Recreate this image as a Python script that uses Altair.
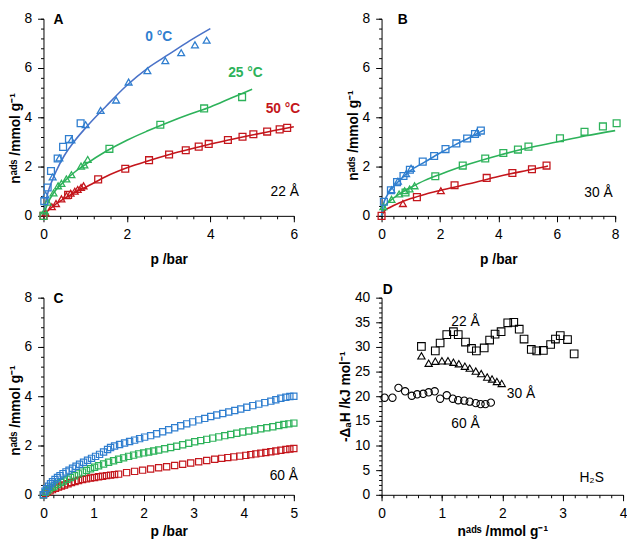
import altair as alt
import pandas as pd

FONT = "Liberation Sans"
BLUE = "#2F7ECF"
BLUE_LINE = "#4A72C8"
GREEN = "#2DB25A"
RED = "#C4161C"

# ---------------- Panel A (22 Å) ----------------
A_BLUE_SQ_P = [0.02, 0.10, 0.18, 0.34, 0.47, 0.61, 0.89]
A_BLUE_SQ_N = [0.60, 1.15, 1.82, 2.33, 2.80, 3.12, 3.76]
A_BLUE_TR_P = [0.05, 0.22, 0.38, 0.67, 1.01, 1.37, 1.74, 2.04, 2.49, 2.92, 3.30, 3.63, 3.91]
A_BLUE_TR_N = [0.85, 1.58, 2.35, 3.08, 3.70, 4.28, 4.70, 5.43, 5.89, 6.30, 6.62, 6.94, 7.13]
A_BLUE_FIT_P = [0, 0.05, 0.1, 0.2, 0.3, 0.5, 0.75, 1.0, 1.5, 2.0, 2.5, 3.0, 3.5, 4.0]
A_BLUE_FIT_N = [0, 0.55, 0.90, 1.40, 1.80, 2.45, 3.05, 3.55, 4.45, 5.30, 6.00, 6.55, 7.10, 7.60]

A_GREEN_TR_P = [0.03, 0.10, 0.24, 0.35, 0.43, 0.55, 0.67, 0.90, 0.98, 1.06]
A_GREEN_TR_N = [0.20, 0.56, 0.93, 1.22, 1.32, 1.50, 1.67, 2.02, 2.07, 2.29]
A_GREEN_SQ_P = [0.0, 1.58, 2.80, 3.85, 4.76]
A_GREEN_SQ_N = [0.0, 2.72, 3.70, 4.36, 4.82]
A_GREEN_FIT_P = [0, 0.1, 0.25, 0.5, 0.75, 1.0, 1.5, 2.0, 2.5, 3.0, 3.5, 4.0, 4.5, 5.0]
A_GREEN_FIT_N = [0, 0.50, 0.95, 1.40, 1.78, 2.08, 2.62, 3.07, 3.45, 3.80, 4.12, 4.42, 4.78, 5.14]

A_RED_TR_P = [0.05, 0.20, 0.30, 0.43, 0.55, 0.65, 0.75, 0.82, 0.90, 0.96]
A_RED_TR_N = [0.12, 0.37, 0.50, 0.69, 0.82, 0.92, 1.00, 1.07, 1.15, 1.22]
A_RED_SQ_P = [0.0, 0.59, 1.31, 1.96, 2.53, 3.01, 3.41, 3.72, 3.96, 4.42, 4.77, 5.03, 5.36, 5.66, 5.84]
A_RED_SQ_N = [0.0, 0.85, 1.48, 1.91, 2.26, 2.49, 2.66, 2.81, 2.92, 3.08, 3.21, 3.31, 3.42, 3.51, 3.57]
A_RED_FIT_P = [0, 0.1, 0.25, 0.5, 0.75, 1.0, 1.5, 2.0, 2.5, 3.0, 3.5, 4.0, 4.5, 5.0, 5.5, 6.0]
A_RED_FIT_N = [0, 0.20, 0.42, 0.70, 0.95, 1.15, 1.60, 1.95, 2.23, 2.48, 2.70, 2.92, 3.10, 3.28, 3.45, 3.62]

# ---------------- Panel B (30 Å) ----------------
B_BLUE_SQ_P = [0.08, 0.32, 0.53, 0.75, 0.97, 1.41, 1.80, 2.19, 2.56, 2.93, 3.20, 3.40]
B_BLUE_SQ_N = [0.57, 1.04, 1.37, 1.62, 1.87, 2.20, 2.43, 2.71, 2.94, 3.14, 3.32, 3.46]
B_BLUE_TR_P = [0.34, 0.56, 0.84, 1.01, 3.26]
B_BLUE_TR_N = [1.06, 1.41, 1.71, 1.93, 3.38]
B_BLUE_FIT_P = [0, 0.05, 0.2, 0.5, 1.0, 1.5, 2.0, 2.5, 3.0, 3.5]
B_BLUE_FIT_N = [0, 0.40, 0.85, 1.30, 1.85, 2.20, 2.55, 2.87, 3.17, 3.48]

B_GREEN_SQ_P = [0.82, 1.84, 2.78, 3.55, 4.17, 4.67, 5.03, 6.11, 6.95, 7.58, 8.05]
B_GREEN_SQ_N = [0.95, 1.61, 2.04, 2.33, 2.55, 2.69, 2.81, 3.15, 3.41, 3.63, 3.76]
B_GREEN_TR_P = [0.06, 0.34, 0.60, 0.79, 0.96, 1.13]
B_GREEN_TR_N = [0.37, 0.67, 0.89, 1.02, 1.09, 1.22]
B_GREEN_FIT_P = [0, 0.1, 0.3, 0.6, 1.0, 1.5, 2.0, 3.0, 4.0, 5.0, 6.0, 7.0, 8.0]
B_GREEN_FIT_N = [0, 0.35, 0.62, 0.88, 1.15, 1.45, 1.68, 2.10, 2.45, 2.75, 3.00, 3.25, 3.46]

B_RED_SQ_P = [0.0, 1.21, 2.50, 3.60, 4.48, 5.15, 5.65]
B_RED_SQ_N = [0.0, 0.76, 1.24, 1.54, 1.74, 1.89, 2.04]
B_RED_TR_P = [0.73, 2.03]
B_RED_TR_N = [0.50, 1.02]
B_RED_FIT_P = [0, 0.1, 0.3, 0.6, 1.0, 1.5, 2.0, 3.0, 4.0, 5.0, 5.7]
B_RED_FIT_N = [0, 0.20, 0.35, 0.52, 0.70, 0.88, 1.03, 1.30, 1.60, 1.85, 2.02]

# ---------------- Panel C (60 Å) ----------------
C_BLUE_P = [0.00, 0.03, 0.06, 0.10, 0.14, 0.18, 0.23, 0.28, 0.33, 0.39, 0.45, 0.51, 0.58, 0.65,
            0.72, 0.80, 0.88, 0.96, 1.04, 1.12, 1.20, 1.28, 1.34, 1.42, 1.52, 1.62, 1.72, 1.82,
            1.92, 2.02, 2.14, 2.26, 2.38, 2.50, 2.62, 2.74, 2.86, 2.98, 3.10, 3.22, 3.34, 3.46,
            3.58, 3.70, 3.82, 3.94, 4.06, 4.18, 4.30, 4.42, 4.54, 4.64, 4.74, 4.84, 4.92, 5.00]
C_BLUE_N = [0.00, 0.15, 0.25, 0.35, 0.45, 0.53, 0.62, 0.70, 0.78, 0.86, 0.93, 1.00, 1.08, 1.16,
            1.24, 1.32, 1.40, 1.48, 1.56, 1.64, 1.74, 1.84, 1.92, 1.98, 2.04, 2.10, 2.16, 2.22,
            2.28, 2.34, 2.40, 2.48, 2.56, 2.64, 2.72, 2.80, 2.88, 2.96, 3.04, 3.10, 3.18, 3.24,
            3.30, 3.36, 3.42, 3.48, 3.55, 3.62, 3.68, 3.74, 3.80, 3.86, 3.92, 3.96, 3.99, 4.00]
C_GREEN_P = [0.00, 0.04, 0.08, 0.12, 0.17, 0.22, 0.28, 0.34, 0.40, 0.47, 0.54, 0.62, 0.70, 0.78,
             0.86, 0.94, 1.02, 1.10, 1.20, 1.30, 1.40, 1.50, 1.60, 1.70, 1.80, 1.90, 2.00, 2.10,
             2.20, 2.30, 2.42, 2.54, 2.66, 2.78, 2.90, 3.02, 3.14, 3.26, 3.38, 3.50, 3.62, 3.74,
             3.86, 3.98, 4.10, 4.22, 4.34, 4.46, 4.58, 4.70, 4.80, 4.90, 5.00]
C_GREEN_N = [0.00, 0.10, 0.17, 0.24, 0.30, 0.36, 0.43, 0.50, 0.56, 0.63, 0.70, 0.77, 0.85, 0.92,
             0.99, 1.06, 1.12, 1.18, 1.25, 1.32, 1.38, 1.44, 1.50, 1.56, 1.61, 1.66, 1.70, 1.74,
             1.78, 1.82, 1.87, 1.92, 1.97, 2.03, 2.09, 2.15, 2.20, 2.25, 2.30, 2.35, 2.40, 2.45,
             2.50, 2.55, 2.59, 2.63, 2.68, 2.72, 2.76, 2.81, 2.85, 2.88, 2.91]
C_RED_P = [0.00, 0.04, 0.08, 0.13, 0.18, 0.24, 0.30, 0.36, 0.42, 0.49, 0.56, 0.63, 0.70, 0.78,
           0.86, 0.94, 1.02, 1.10, 1.18, 1.26, 1.34, 1.42, 1.50, 1.66, 1.82, 1.98, 2.14, 2.30,
           2.46, 2.62, 2.78, 2.94, 3.10, 3.26, 3.42, 3.56, 3.68, 3.80, 3.92, 4.04, 4.14, 4.24,
           4.34, 4.44, 4.54, 4.64, 4.74, 4.84, 4.92, 5.00]
C_RED_N = [0.00, 0.06, 0.11, 0.16, 0.21, 0.26, 0.31, 0.36, 0.40, 0.45, 0.50, 0.54, 0.58, 0.62,
           0.65, 0.68, 0.70, 0.73, 0.75, 0.78, 0.80, 0.82, 0.84, 0.90, 0.95, 1.00, 1.05, 1.10,
           1.14, 1.19, 1.24, 1.29, 1.34, 1.39, 1.44, 1.48, 1.51, 1.54, 1.57, 1.60, 1.63, 1.66,
           1.69, 1.72, 1.75, 1.78, 1.81, 1.84, 1.86, 1.88]

# ---------------- Panel D (heat of adsorption) ----------------
D_22_N = [0.66, 0.89, 0.97, 1.08, 1.19, 1.27, 1.39, 1.49, 1.57, 1.70, 1.79, 1.88, 1.98, 2.09,
          2.19, 2.28, 2.36, 2.48, 2.57, 2.68, 2.80, 2.88, 2.96, 3.08, 3.19]
D_22_H = [30.1, 29.2, 30.8, 32.5, 33.1, 32.5, 31.0, 29.7, 29.2, 29.8, 31.4, 32.6, 33.1, 34.9,
          35.0, 33.6, 31.6, 29.5, 29.2, 29.3, 30.5, 31.6, 32.3, 31.5, 28.6]
D_30_N = [0.66, 0.78, 0.89, 1.00, 1.10, 1.19, 1.28, 1.38, 1.46, 1.56, 1.65, 1.75, 1.83, 1.91, 1.99]
D_30_H = [28.2, 26.7, 27.1, 27.2, 27.2, 26.9, 26.6, 26.1, 25.7, 25.1, 24.6, 23.9, 23.5, 23.0, 22.6]
D_60_N = [0.05, 0.18, 0.28, 0.39, 0.50, 0.59, 0.69, 0.78, 0.88, 0.97, 1.08, 1.18, 1.27, 1.37,
          1.46, 1.56, 1.64, 1.72, 1.81]
D_60_H = [19.7, 19.7, 21.7, 21.0, 20.1, 20.4, 20.5, 20.8, 21.0, 19.5, 20.2, 19.5, 19.2, 19.1,
          18.9, 18.6, 18.4, 18.4, 18.7]

Y_TITLE_N = "nᵃᵈˢ /mmol g⁻¹"
X_TITLE_P = "p /bar"
Y_TITLE_H = "-ΔₐH /kJ mol⁻¹"


def steps(lo, hi, step):
    k = int(round((hi - lo) / step))
    return [round(lo + i * step, 4) for i in range(k + 1)]


def pts(xs, ys, p, n, color, shape, size=48, sw=1.3):
    df = pd.DataFrame({"p": p, "n": n})
    return alt.Chart(df).mark_point(shape=shape, filled=False, color=color, size=size,
                                    strokeWidth=sw, opacity=1).encode(
        x=alt.X("p:Q", scale=xs, axis=None),
        y=alt.Y("n:Q", scale=ys, axis=None))


def line(xs, ys, p, n, color):
    df = pd.DataFrame({"p": p, "n": n})
    return alt.Chart(df).mark_line(color=color, strokeWidth=1.6, interpolate="monotone").encode(
        x=alt.X("p:Q", scale=xs, axis=None),
        y=alt.Y("n:Q", scale=ys, axis=None))


def txt(xs, ys, p, n, s, color="black", size=14, weight="normal", align="center"):
    df = pd.DataFrame({"p": [p], "n": [n], "t": [s]})
    return alt.Chart(df).mark_text(font=FONT, fontSize=size, fontWeight=weight, color=color,
                                   align=align, baseline="middle").encode(
        x=alt.X("p:Q", scale=xs, axis=None),
        y=alt.Y("n:Q", scale=ys, axis=None),
        text="t:N")


def panel(xs, ys, w, h, xmaj, xminor, ymaj, yminor, xtitle, ytitle, xtpad, ytitle_y, layers):
    base = pd.DataFrame({"p": [xs.domain[0]], "n": [ys.domain[0]]})
    yax = dict(values=ymaj, title=ytitle, orient="left", tickSize=6, labelPadding=6,
               titlePadding=2, domain=True)
    if ytitle_y is not None:
        yax["titleY"] = ytitle_y
    major = alt.Chart(base).mark_point(opacity=0).encode(
        x=alt.X("p:Q", scale=xs, axis=alt.Axis(values=xmaj, title=xtitle, orient="bottom",
                                               tickSize=6, labelPadding=6, titlePadding=xtpad)),
        y=alt.Y("n:Q", scale=ys, axis=alt.Axis(**yax)))
    minor = alt.Chart(base).mark_point(opacity=0).encode(
        x=alt.X("p:Q", scale=xs, axis=alt.Axis(values=xminor, labels=False, tickSize=3,
                                               domain=False, title=None, orient="bottom")),
        y=alt.Y("n:Q", scale=ys, axis=alt.Axis(values=yminor, labels=False, tickSize=3,
                                               domain=False, title=None, orient="left")))
    return alt.layer(major, minor, *layers).resolve_axis(
        x="independent", y="independent").properties(width=w, height=h)


H = 200

# Panel A
xa = alt.Scale(domain=[0, 6], nice=False, zero=False)
ya = alt.Scale(domain=[0, 8], nice=False, zero=False)
A = panel(xa, ya, 254, H, steps(0, 6, 2), steps(0, 6, 0.4), steps(0, 8, 2), steps(0, 8, 0.4),
          X_TITLE_P, Y_TITLE_N, 11, 121, [
              line(xa, ya, A_RED_FIT_P, A_RED_FIT_N, RED),
              line(xa, ya, A_GREEN_FIT_P, A_GREEN_FIT_N, GREEN),
              line(xa, ya, A_BLUE_FIT_P, A_BLUE_FIT_N, BLUE_LINE),
              pts(xa, ya, A_RED_TR_P, A_RED_TR_N, RED, "triangle-up"),
              pts(xa, ya, A_RED_SQ_P, A_RED_SQ_N, RED, "square"),
              pts(xa, ya, A_GREEN_TR_P, A_GREEN_TR_N, GREEN, "triangle-up"),
              pts(xa, ya, A_GREEN_SQ_P, A_GREEN_SQ_N, GREEN, "square"),
              pts(xa, ya, A_BLUE_TR_P, A_BLUE_TR_N, BLUE, "triangle-up"),
              pts(xa, ya, A_BLUE_SQ_P, A_BLUE_SQ_N, BLUE, "square"),
              txt(xa, ya, 0.24, 7.95, "A", weight="bold", align="left"),
              txt(xa, ya, 2.76, 7.25, "0 °C", color=BLUE, weight="bold"),
              txt(xa, ya, 4.84, 5.78, "25 °C", color=GREEN, weight="bold"),
              txt(xa, ya, 5.74, 4.35, "50 °C", color=RED, weight="bold"),
              txt(xa, ya, 5.78, 0.96, "22 Å"),
          ])

# Panel B
xb = alt.Scale(domain=[0, 8], nice=False, zero=False)
yb = alt.Scale(domain=[0, 8], nice=False, zero=False)
B = panel(xb, yb, 237, H, steps(0, 8, 2), steps(0, 8, 0.4), steps(0, 8, 2), steps(0, 8, 0.4),
          X_TITLE_P, Y_TITLE_N, 11, 118, [
              line(xb, yb, B_RED_FIT_P, B_RED_FIT_N, RED),
              line(xb, yb, B_GREEN_FIT_P, B_GREEN_FIT_N, GREEN),
              line(xb, yb, B_BLUE_FIT_P, B_BLUE_FIT_N, BLUE),
              pts(xb, yb, B_RED_TR_P, B_RED_TR_N, RED, "triangle-up"),
              pts(xb, yb, B_RED_SQ_P, B_RED_SQ_N, RED, "square"),
              pts(xb, yb, B_GREEN_TR_P, B_GREEN_TR_N, GREEN, "triangle-up"),
              pts(xb, yb, B_GREEN_SQ_P, B_GREEN_SQ_N, GREEN, "square"),
              pts(xb, yb, B_BLUE_TR_P, B_BLUE_TR_N, BLUE, "triangle-up"),
              pts(xb, yb, B_BLUE_SQ_P, B_BLUE_SQ_N, BLUE, "square"),
              txt(xb, yb, 0.55, 7.95, "B", weight="bold", align="left"),
              txt(xb, yb, 7.43, 0.92, "30 Å"),
          ])

# Panel C
xc = alt.Scale(domain=[0, 5], nice=False, zero=False)
yc = alt.Scale(domain=[0, 8], nice=False, zero=False)
C = panel(xc, yc, 254, H, steps(0, 5, 1), steps(0, 5, 0.2), steps(0, 8, 2), steps(0, 8, 0.4),
          X_TITLE_P, Y_TITLE_N, 4, 114, [
              pts(xc, yc, C_RED_P, C_RED_N, RED, "square", size=40, sw=1.2),
              pts(xc, yc, C_GREEN_P, C_GREEN_N, GREEN, "square", size=40, sw=1.2),
              pts(xc, yc, C_BLUE_P, C_BLUE_N, BLUE, "square", size=40, sw=1.2),
              txt(xc, yc, 0.2, 7.95, "C", weight="bold", align="left"),
              txt(xc, yc, 4.80, 0.76, "60 Å"),
          ])

# Panel D
xd = alt.Scale(domain=[0, 4], nice=False, zero=False)
yd = alt.Scale(domain=[0, 40], nice=False, zero=False)
D = panel(xd, yd, 245, H, steps(0, 4, 1), steps(0, 4, 0.2), steps(0, 40, 5), steps(0, 40, 1),
          Y_TITLE_N, Y_TITLE_H, 4, None, [
              pts(xd, yd, D_22_N, D_22_H, "black", "square", size=60, sw=1.1),
              pts(xd, yd, D_30_N, D_30_H, "black", "triangle-up", size=55, sw=1.1),
              pts(xd, yd, D_60_N, D_60_H, "black", "circle", size=55, sw=1.1),
              txt(xd, yd, 0.02, 41.6, "D", weight="bold", align="left"),
              txt(xd, yd, 1.39, 35.1, "22 Å"),
              txt(xd, yd, 2.31, 20.5, "30 Å"),
              txt(xd, yd, 1.39, 14.3, "60 Å"),
              txt(xd, yd, 3.48, 3.4, "H₂S"),
          ])

chart = alt.concat(A, B, C, D, columns=2, spacing={"row": 83, "column": 89},
                   bounds="flush", padding=0).configure_view(
    stroke=None).configure_axis(
    labelFont=FONT, titleFont=FONT, labelFontSize=14, titleFontSize=14, titleFontWeight="bold",
    labelColor="black", titleColor="black", domainColor="black", tickColor="black",
    domainWidth=1, tickWidth=1, grid=False, labelFlush=False, labelOverlap=False)

chart.save("out.html", embed_options={"renderer": "svg", "actions": False})
